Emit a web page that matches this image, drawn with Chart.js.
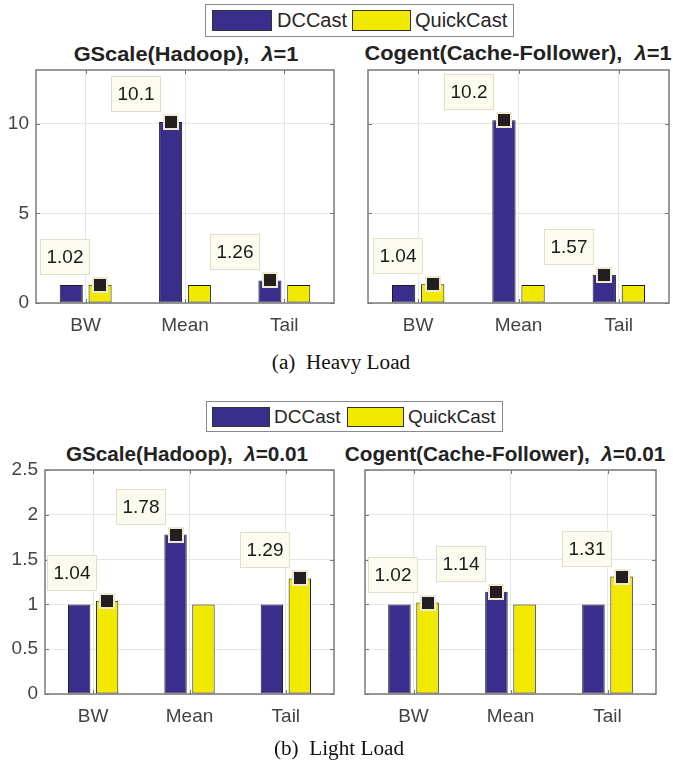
<!DOCTYPE html>
<html><head><meta charset="utf-8">
<script src="https://cdn.jsdelivr.net/npm/chart.js@4/dist/chart.umd.min.js"></script>
<style>
html,body{margin:0;padding:0;background:#fff;}
body{width:673px;height:766px;position:relative;overflow:hidden;font-family:"Liberation Sans",Arial,sans-serif;}
canvas{position:absolute;}
.title{position:absolute;font-weight:bold;font-size:20px;color:#222;white-space:nowrap;transform:translateX(-50%) scaleX(1.09);line-height:20px;}
.title.small{transform:translateX(-50%) scaleX(1.035);}
.legend{position:absolute;border:1px solid #8a8a8a;background:#fff;box-sizing:border-box;}
.patch{position:absolute;border:1px solid #333;box-sizing:border-box;}
.ltext{position:absolute;white-space:nowrap;color:#262626;}
.caption{position:absolute;font-family:"Liberation Serif","Times New Roman",serif;font-size:20px;color:#111;transform:translateX(-50%) scaleX(1.06);white-space:nowrap;line-height:20px;}
</style></head>
<body>
<div class="legend" style="left:205px;top:4px;width:309px;height:33px;"></div>
<div class="patch" style="left:212px;top:10px;width:60px;height:21px;background:#3a2e8c;"></div>
<div class="ltext" style="left:277px;top:9px;font-size:20px;line-height:23px;">DCCast</div>
<div class="patch" style="left:352px;top:10px;width:59px;height:21px;background:#f1e900;"></div>
<div class="ltext" style="left:415px;top:9px;font-size:20px;line-height:23px;">QuickCast</div>

<div class="title" style="left:186px;top:44px;">GScale(Hadoop),&nbsp;&nbsp;<i>λ</i>=1</div>
<div class="title" style="left:518px;top:43px;">Cogent(Cache-Follower),&nbsp;&nbsp;<i>λ</i>=1</div>

<canvas id="c1" width="340" height="290" style="left:0px;top:58px;"></canvas>
<canvas id="c2" width="333" height="290" style="left:340px;top:58px;"></canvas>

<div class="caption" style="left:341px;top:352px;">(a)&nbsp;&nbsp;Heavy Load</div>

<div class="legend" style="left:206px;top:401px;width:297px;height:31px;"></div>
<div class="patch" style="left:212px;top:407px;width:58px;height:20px;background:#3a2e8c;"></div>
<div class="ltext" style="left:274px;top:406px;font-size:19px;line-height:22px;">DCCast</div>
<div class="patch" style="left:347px;top:407px;width:57px;height:20px;background:#f1e900;"></div>
<div class="ltext" style="left:408px;top:406px;font-size:19px;line-height:22px;">QuickCast</div>

<div class="title small" style="left:187px;top:444px;">GScale(Hadoop),&nbsp;&nbsp;<i>λ</i>=0.01</div>
<div class="title small" style="left:505px;top:444px;">Cogent(Cache-Follower),&nbsp;&nbsp;<i>λ</i>=0.01</div>

<canvas id="c3" width="340" height="300" style="left:0px;top:458px;"></canvas>
<canvas id="c4" width="333" height="300" style="left:340px;top:458px;"></canvas>

<div class="caption" style="left:339px;top:738px;">(b)&nbsp;&nbsp;Light Load</div>

<script>
const categories = ['BW', 'Mean', 'Tail'];
const seriesNames = ['DCCast', 'QuickCast'];
const heavyGScaleDC = [1, 10.1, 1.26];
const heavyGScaleQC = [1.02, 1, 1];
const heavyCogentDC = [1, 10.2, 1.57];
const heavyCogentQC = [1.04, 1, 1];
const lightGScaleDC = [1, 1.78, 1];
const lightGScaleQC = [1.04, 1, 1.29];
const lightCogentDC = [1, 1.14, 1];
const lightCogentQC = [1.02, 1, 1.31];
const heavyTicks = [0, 5, 10];
const lightTicks = [0, 0.5, 1, 1.5, 2, 2.5];
const heavyMax = 13;
const lightMax = 2.5;

const DC_COLOR = '#3a2e8c';
const QC_COLOR = '#f1e900';
const FONT = '"Liberation Sans", Arial, sans-serif';

const framePlugin = {
  id: 'frame',
  afterDatasetsDraw(chart) {
    const ctx = chart.ctx, a = chart.chartArea, xs = chart.scales.x, ys = chart.scales.y;
    ctx.save();
    ctx.strokeStyle = '#777'; ctx.lineWidth = 1;
    ys.ticks.forEach(t => {
      const py = Math.round(ys.getPixelForValue(t.value)) + 0.5;
      ctx.beginPath();
      ctx.moveTo(a.left, py); ctx.lineTo(a.left + 4, py);
      ctx.moveTo(a.right, py); ctx.lineTo(a.right - 4, py);
      ctx.stroke();
    });
    xs.ticks.forEach((t, i) => {
      const px = Math.round(xs.getPixelForTick(i)) + 0.5;
      ctx.beginPath();
      ctx.moveTo(px, a.top); ctx.lineTo(px, a.top + 4);
      ctx.moveTo(px, a.bottom); ctx.lineTo(px, a.bottom - 4);
      ctx.stroke();
    });
    const d0 = chart.data.datasets[0].data, d1 = chart.data.datasets[1].data;
    d0.forEach((v, i) => {
      const di = d1[i] > v ? 1 : 0;
      const el = chart.getDatasetMeta(di).data[i];
      const val = chart.data.datasets[di].data[i];
      ctx.fillStyle = '#efeacf';
      ctx.fillRect(Math.round(el.x) - 8, Math.round(el.y) - 8, 16, 16);
      ctx.fillStyle = '#231f20';
      ctx.fillRect(Math.round(el.x) - 6, Math.round(el.y) - 6, 12, 12);
      const cx = Math.round(el.x - 35), cy = Math.round(el.y - 28);
      ctx.fillStyle = '#fcfbef';
      ctx.fillRect(cx - 25, cy - 18, 50, 36);
      ctx.strokeStyle = '#e2dfcb'; ctx.lineWidth = 1;
      ctx.strokeRect(cx - 24.5, cy - 17.5, 49, 35);
      ctx.fillStyle = '#1a1a1a';
      ctx.font = '19px ' + FONT;
      ctx.textAlign = 'center'; ctx.textBaseline = 'middle';
      ctx.fillText(String(val), cx, cy + 1);
    });
    ctx.strokeStyle = '#7a7a7a'; ctx.lineWidth = 1.5;
    ctx.strokeRect(a.left, a.top, a.right - a.left, a.bottom - a.top);
    ctx.restore();
  }
};

function makeChart(id, dc, qc, ticks, ymax, yWidth, xHeight, padRight, showY) {
  return new Chart(document.getElementById(id), {
    type: 'bar',
    data: {
      labels: categories,
      datasets: [
        { label: seriesNames[0], data: dc, backgroundColor: DC_COLOR, borderColor: '#1c1c1c', borderWidth: 1, borderSkipped: false, categoryPercentage: 0.58, barPercentage: 0.8 },
        { label: seriesNames[1], data: qc, backgroundColor: QC_COLOR, borderColor: '#1c1c1c', borderWidth: 1, borderSkipped: false, categoryPercentage: 0.58, barPercentage: 0.8 }
      ]
    },
    options: {
      responsive: false, animation: false, devicePixelRatio: 1,
      layout: { padding: { top: 12, right: padRight, left: 0, bottom: 0 } },
      plugins: { legend: { display: false }, tooltip: { enabled: false }, title: { display: false } },
      scales: {
        x: {
          grid: { offset: false, color: '#e6e6e6', drawTicks: false },
          border: { display: false },
          ticks: { font: { size: 19, family: FONT }, color: '#444', padding: 11 },
          afterFit: s => { s.height = xHeight; s.paddingLeft = 0; s.paddingRight = 0; }
        },
        y: {
          min: 0, max: ymax,
          grid: { color: '#e6e6e6', drawTicks: false },
          border: { display: false },
          ticks: { display: showY, font: { size: 19, family: FONT }, color: '#444', padding: 7, callback: v => String(v) },
          afterBuildTicks: s => { s.ticks = ticks.map(v => ({ value: v })); },
          afterFit: s => { s.width = yWidth; s.paddingTop = 0; s.paddingBottom = 0; }
        }
      }
    },
    plugins: [framePlugin]
  });
}

makeChart('c1', heavyGScaleDC, heavyGScaleQC, heavyTicks, heavyMax, 36, 45, 6, true);
makeChart('c2', heavyCogentDC, heavyCogentQC, heavyTicks, heavyMax, 28, 45, 4, false);
makeChart('c3', lightGScaleDC, lightGScaleQC, lightTicks, lightMax, 45, 64, 6, true);
makeChart('c4', lightCogentDC, lightCogentQC, lightTicks, lightMax, 25, 64, 17, false);
</script>
</body></html>
